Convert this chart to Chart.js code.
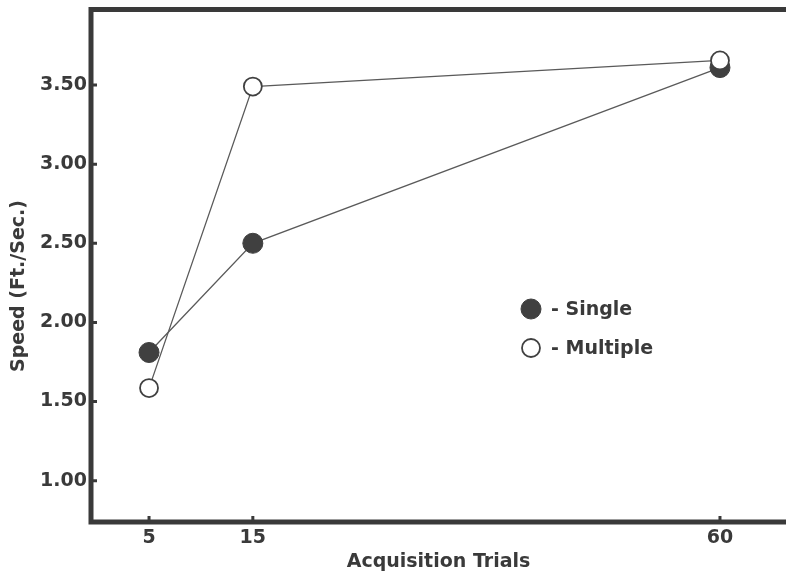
<!DOCTYPE html>
<html><head><meta charset="utf-8">
<script src="https://cdn.jsdelivr.net/npm/chart.js@4"></script>
<style>html,body{margin:0;padding:0;background:#fff;}#wrap{width:786px;height:575px;}</style>
</head><body><div id="wrap"><canvas id="c" width="786" height="575"></canvas></div>
<script>
// ---- data ----
const trials = [5, 15, 60];
const singleSpeed = [1.81, 2.50, 3.61];
const multipleSpeed = [1.585, 3.49, 3.655];
const xTickValues = [5, 15, 60];
const yTickValues = [1.00, 1.50, 2.00, 2.50, 3.00, 3.50];
const seriesNames = ['Single', 'Multiple'];
const xTitle = 'Acquisition Trials';
const yTitle = 'Speed (Ft./Sec.)';

const INK = '#3a3a3a';
const LINE = '#5a5a5a';
const FONT = '"DejaVu Sans", sans-serif';

const toPts = (xs, ys) => xs.map((x, i) => ({x, y: ys[i]}));

const deco = {
  id: 'deco',
  beforeDraw(chart) {
    const ctx = chart.ctx;
    ctx.save();
    ctx.fillStyle = '#fff';
    ctx.fillRect(0, 0, chart.width, chart.height);
    ctx.restore();
  },
  afterDraw(chart) {
    const {ctx, chartArea: a, scales} = chart;
    ctx.save();
    // frame: left, bottom, top (no right side)
    ctx.strokeStyle = INK;
    ctx.lineWidth = 5;
    ctx.lineCap = 'butt';
    ctx.beginPath();
    ctx.moveTo(a.left, a.top - 2.5); ctx.lineTo(a.left, a.bottom + 2.5);
    ctx.moveTo(a.left - 2.5, a.bottom); ctx.lineTo(chart.width, a.bottom);
    ctx.moveTo(a.left - 2.5, a.top); ctx.lineTo(chart.width, a.top);
    ctx.stroke();
    // tick stubs (inward)
    ctx.lineWidth = 3;
    ctx.beginPath();
    scales.y.ticks.forEach(t => {
      const py = scales.y.getPixelForValue(t.value);
      ctx.moveTo(a.left, py); ctx.lineTo(a.left + 6, py);
    });
    scales.x.ticks.forEach(t => {
      const px = scales.x.getPixelForValue(t.value);
      ctx.moveTo(px, a.bottom); ctx.lineTo(px, a.bottom - 6);
    });
    ctx.stroke();
    // y title
    ctx.fillStyle = INK;
    ctx.font = 'bold 19px ' + FONT;
    ctx.textAlign = 'center';
    ctx.textBaseline = 'middle';
    ctx.translate(19, 286);
    ctx.rotate(-Math.PI / 2);
    ctx.fillText(yTitle, 0, 0);
    ctx.restore();
    // legend
    ctx.save();
    chart.data.datasets.forEach((ds, i) => {
      const cx = 531, cy = 309 + i * 39;
      ctx.beginPath();
      ctx.arc(cx, cy, ds.pointRadius, 0, Math.PI * 2);
      ctx.fillStyle = ds.pointBackgroundColor;
      ctx.fill();
      ctx.lineWidth = ds.pointBorderWidth;
      ctx.strokeStyle = ds.pointBorderColor;
      ctx.stroke();
      ctx.fillStyle = INK;
      ctx.font = 'bold 19px ' + FONT;
      ctx.textAlign = 'left';
      ctx.textBaseline = 'middle';
      ctx.fillText('- ' + ds.label, 551, cy + 1);
    });
    ctx.restore();
  }
};

new Chart(document.getElementById('c'), {
  type: 'line',
  data: {
    datasets: [
      {
        label: seriesNames[0],
        data: toPts(trials, singleSpeed),
        borderColor: LINE, borderWidth: 1.3,
        pointRadius: 10, pointBackgroundColor: '#404040',
        pointBorderColor: '#404040', pointBorderWidth: 1,
        clip: false, order: 1
      },
      {
        label: seriesNames[1],
        data: toPts(trials, multipleSpeed),
        borderColor: LINE, borderWidth: 1.3,
        pointRadius: 9, pointBackgroundColor: '#ffffff',
        pointBorderColor: '#404040', pointBorderWidth: 1.8,
        clip: false, order: 0
      }
    ]
  },
  options: {
    responsive: false,
    animation: false,
    devicePixelRatio: 1,
    layout: { autoPadding: false, padding: { top: 9.5, right: 0, left: 0, bottom: 0 } },
    plugins: { legend: { display: false }, tooltip: { enabled: false } },
    scales: {
      x: {
        type: 'linear',
        min: -0.59, max: 66.36,
        afterBuildTicks: s => { s.ticks = xTickValues.map(v => ({value: v})); },
        afterFit: s => { s.height = 53; s.paddingLeft = 0; s.paddingRight = 0; },
        grid: { display: false, drawTicks: false },
        border: { display: false },
        ticks: { color: INK, font: { family: FONT, size: 19, weight: 'bold' }, padding: 5, maxRotation: 0 },
        title: { display: true, text: xTitle, color: INK, font: { family: FONT, size: 19, weight: 'bold' }, padding: { top: 0, bottom: 2 } }
      },
      y: {
        type: 'linear',
        min: 0.739, max: 3.977,
        afterBuildTicks: s => { s.ticks = yTickValues.map(v => ({value: v})); },
        afterFit: s => { s.width = 91; s.paddingTop = 0; s.paddingBottom = 0; },
        grid: { display: false, drawTicks: false },
        border: { display: false },
        ticks: { color: INK, font: { family: FONT, size: 19, weight: 'bold' }, padding: 4,
                 callback: v => v.toFixed(2) },
        title: { display: false }
      }
    }
  },
  plugins: [deco]
});
</script>
</body></html>
